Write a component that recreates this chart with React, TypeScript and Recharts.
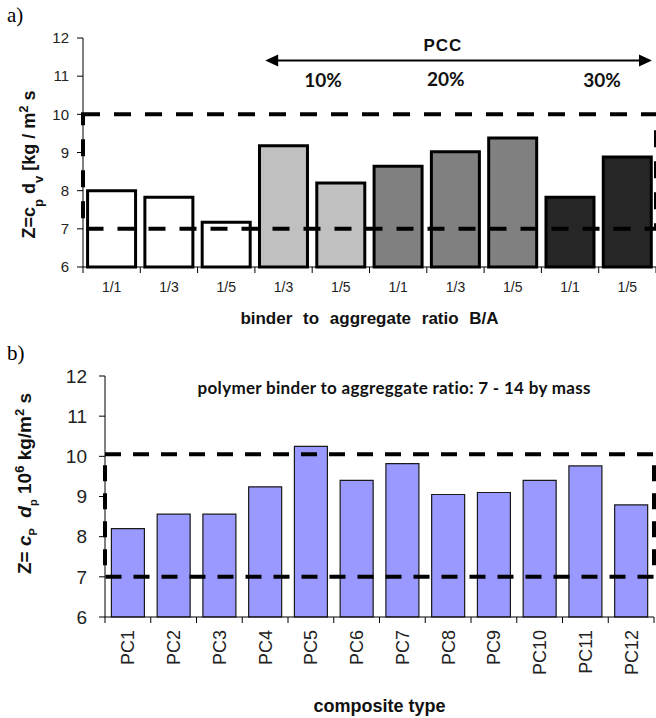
import React from "react";
import {
  Bar,
  BarChart,
  Cell,
  ReferenceArea,
  ReferenceDot,
  ReferenceLine,
  XAxis,
  YAxis
} from "recharts";

// panel a) - PCC composites
const topRatios = ["1/1", "1/3", "1/5", "1/3", "1/5", "1/1", "1/3", "1/5", "1/1", "1/5"];
const topPcc = ["0%", "0%", "0%", "10%", "10%", "20%", "20%", "20%", "30%", "30%"];
const topZ = [8.0, 7.83, 7.17, 9.18, 8.2, 8.64, 9.02, 9.38, 7.83, 8.88];
const topTicks = [6, 7, 8, 9, 10, 11, 12];

// panel b) - polymer composites
const composites = ["PC1", "PC2", "PC3", "PC4", "PC5", "PC6", "PC7", "PC8", "PC9", "PC10", "PC11", "PC12"];
const compositeZ = [8.2, 8.56, 8.56, 9.24, 10.25, 9.4, 9.82, 9.05, 9.1, 9.4, 9.76, 8.79];
const bottomTicks = [6, 7, 8, 9, 10, 11, 12];

// acceptable range band
const zLow = 7;
const zHighTop = 10;
const zHighBottom = 10.05;

const pccFill: Record<string, string> = {
  "0%": "#ffffff",
  "10%": "#c0c0c0",
  "20%": "#808080",
  "30%": "#262626"
};

const topData = topRatios.map((r, i) => ({ id: `a${i}`, pos: i, ratio: r, pcc: topPcc[i], z: topZ[i] }));
const bottomData = composites.map((c, i) => ({ id: c, pos: i, z: compositeZ[i] }));

const W = 656;
const TOP_H = 335;
const TOP_MARGIN = { top: 38, right: 0, bottom: 38, left: 0 };
const TOP_YW = 83;
const TOP_XH = 30;
const TOP_PLOT_BOTTOM = TOP_H - TOP_MARGIN.bottom - TOP_XH;
const TOP_HALF = (W - TOP_MARGIN.left - TOP_MARGIN.right - TOP_YW) / topRatios.length / 2;

const BOT_H = 378;
const BOT_MARGIN = { top: 36, right: 2, bottom: 31, left: 0 };
const BOT_YW = 105;
const BOT_XH = 70;
const BOT_PLOT_BOTTOM = BOT_H - BOT_MARGIN.bottom - BOT_XH;
const BOT_HALF = (W - BOT_MARGIN.left - BOT_MARGIN.right - BOT_YW) / composites.length / 2;

const SANS = "'Liberation Sans', Arial, sans-serif";
const CAL = "Lato, 'Open Sans', sans-serif";

function TopTick(props: any) {
  const { x, index } = props;
  return (
    <g>
      {index === 0 && (
        <line x1={x - TOP_HALF} x2={x - TOP_HALF} y1={TOP_PLOT_BOTTOM} y2={TOP_PLOT_BOTTOM + 6} stroke="#000" />
      )}
      <line x1={x + TOP_HALF} x2={x + TOP_HALF} y1={TOP_PLOT_BOTTOM} y2={TOP_PLOT_BOTTOM + 6} stroke="#000" />
      <text x={x} y={TOP_PLOT_BOTTOM + 20} dy="0.35em" textAnchor="middle" fontSize={14} fill="#222" fontFamily={SANS}>
        {topRatios[index]}
      </text>
    </g>
  );
}

function BottomTick(props: any) {
  const { x, index } = props;
  const ly = BOT_PLOT_BOTTOM + 13;
  return (
    <g>
      {index === 0 && (
        <line x1={x - BOT_HALF} x2={x - BOT_HALF} y1={BOT_PLOT_BOTTOM} y2={BOT_PLOT_BOTTOM + 6} stroke="#000" />
      )}
      <line x1={x + BOT_HALF} x2={x + BOT_HALF} y1={BOT_PLOT_BOTTOM} y2={BOT_PLOT_BOTTOM + 6} stroke="#000" />
      <text
        x={x}
        y={ly}
        dy="0.36em"
        textAnchor="end"
        transform={`rotate(-90, ${x}, ${ly})`}
        fontSize={18}
        fill="#222"
        fontFamily={SANS}
      >
        {composites[index]}
      </text>
    </g>
  );
}

function TopYLabel(props: any) {
  const vb = props.viewBox || { x: 0, y: 0, width: 0, height: 0 };
  const cx = vb.x + 35;
  const cy = vb.y + vb.height / 2 + 12;
  return (
    <text
      x={cx}
      y={cy}
      textAnchor="middle"
      transform={`rotate(-90, ${cx}, ${cy})`}
      fontSize={18}
      fontWeight="bold"
      fontFamily={SANS}
      fill="#111"
      style={{ whiteSpace: "pre" }}
    >
      Z=c<tspan baselineShift="sub" fontSize={13}>p</tspan> d<tspan baselineShift="sub" fontSize={13}>v</tspan> [kg / m
      <tspan baselineShift="super" fontSize={13}>2</tspan> s
    </text>
  );
}

function BottomYLabel(props: any) {
  const vb = props.viewBox || { x: 0, y: 0, width: 0, height: 0 };
  const cx = vb.x + 31;
  const cy = vb.y + vb.height / 2 - 13;
  return (
    <text
      x={cx}
      y={cy}
      textAnchor="middle"
      transform={`rotate(-90, ${cx}, ${cy})`}
      fontSize={19}
      fontWeight="bold"
      fontFamily={SANS}
      fill="#111"
      style={{ whiteSpace: "pre" }}
    >
      Z= <tspan fontStyle="italic">c</tspan>
      <tspan baselineShift="sub" fontSize={11}>P</tspan>
      {"  "}
      <tspan fontStyle="italic">d</tspan>
      <tspan baselineShift="sub" fontSize={11}>p</tspan> 10
      <tspan baselineShift="super" fontSize={13}>6</tspan> kg/m
      <tspan baselineShift="super" fontSize={13}>2</tspan> s
    </text>
  );
}

function ArrowShape(props: any) {
  const { x1, y1, x2, y2 } = props;
  const h = 13;
  const w = 6;
  return (
    <g>
      <line x1={x1 + h - 1} y1={y1} x2={x2 - h + 1} y2={y2} stroke="#000" strokeWidth={2} />
      <polygon points={`${x1},${y1} ${x1 + h},${y1 - w} ${x1 + h},${y1 + w}`} fill="#000" />
      <polygon points={`${x2},${y2} ${x2 - h},${y2 - w} ${x2 - h},${y2 + w}`} fill="#000" />
    </g>
  );
}

const pctLabel = (value: string) => ({
  value,
  position: "center" as const,
  fill: "#111",
  fontSize: 19,
  fontWeight: "bold",
  fontFamily: CAL
});

export default function App() {
  return (
    <div style={{ position: "absolute", left: 0, top: 0, width: W, height: 718, background: "#fff" }}>
      <div style={{ position: "absolute", left: 7, top: 5, fontSize: 21, lineHeight: 1, fontFamily: "'Liberation Serif', serif" }}>
        a)
      </div>
      <div style={{ position: "absolute", left: 7, top: 343, fontSize: 21, lineHeight: 1, fontFamily: "'Liberation Serif', serif" }}>
        b)
      </div>

      <div style={{ position: "absolute", left: 0, top: 0 }}>
        <BarChart width={W} height={TOP_H} data={topData} margin={TOP_MARGIN} barCategoryGap="8%">
          <XAxis
            dataKey="id"
            height={TOP_XH}
            stroke="#000"
            tickLine={false}
            interval={0}
            tick={<TopTick />}
            label={{
              value: "binder to aggregate ratio B/A",
              position: "bottom",
              offset: 15,
              fontSize: 17,
              fontWeight: "bold",
              fill: "#111",
              fontFamily: SANS,
              style: { wordSpacing: 6 }
            }}
          />
          {/* hidden index axis for annotations: 0..n-1 = bar centres */}
          <XAxis
            xAxisId="ann"
            dataKey="pos"
            type="number"
            domain={[0, topRatios.length - 1]}
            padding={{ left: TOP_HALF, right: TOP_HALF }}
            hide
            allowDataOverflow
          />
          <YAxis
            width={TOP_YW}
            domain={[6, 12]}
            ticks={topTicks}
            interval={0}
            stroke="#000"
            tickMargin={8}
            tick={{ fontSize: 15, fill: "#222", fontFamily: SANS }}
            label={TopYLabel}
          />
          <Bar dataKey="z" stroke="#000" strokeWidth={3} isAnimationActive={false}>
            {topData.map((d) => (
              <Cell key={d.id} fill={pccFill[d.pcc]} />
            ))}
          </Bar>
          <ReferenceArea
            y1={zLow}
            y2={zHighTop}
            fill="none"
            fillOpacity={0}
            stroke="#000"
            strokeWidth={4}
            strokeDasharray="17 14"
            ifOverflow="visible"
            zIndex={450}
          />
          <ReferenceLine
            xAxisId="ann"
            segment={[{ x: 2.68, y: 11.41 }, { x: 9.43, y: 11.41 }]}
            shape={ArrowShape}
            ifOverflow="visible"
          />
          <ReferenceDot
            xAxisId="ann"
            x={5.78}
            y={11.82}
            r={0}
            ifOverflow="visible"
            label={{ ...pctLabel("PCC"), fontFamily: SANS, fontSize: 17, letterSpacing: 1 }}
          />
          <ReferenceDot xAxisId="ann" x={3.69} y={10.88} r={0} ifOverflow="visible" label={pctLabel("10%")} />
          <ReferenceDot xAxisId="ann" x={5.83} y={10.92} r={0} ifOverflow="visible" label={pctLabel("20%")} />
          <ReferenceDot xAxisId="ann" x={8.56} y={10.88} r={0} ifOverflow="visible" label={pctLabel("30%")} />
        </BarChart>
      </div>

      <div style={{ position: "absolute", left: 0, top: 340 }}>
        <BarChart width={W} height={BOT_H} data={bottomData} margin={BOT_MARGIN} barCategoryGap="14%">
          <XAxis
            dataKey="id"
            height={BOT_XH}
            stroke="#000"
            tickLine={false}
            interval={0}
            tick={<BottomTick />}
            label={{
              value: "composite type",
              position: "bottom",
              offset: 12,
              fontSize: 18,
              fontWeight: "bold",
              fill: "#111",
              fontFamily: SANS
            }}
          />
          <XAxis
            xAxisId="ann"
            dataKey="pos"
            type="number"
            domain={[0, composites.length - 1]}
            padding={{ left: BOT_HALF, right: BOT_HALF }}
            hide
            allowDataOverflow
          />
          <YAxis
            width={BOT_YW}
            domain={[6, 12]}
            ticks={bottomTicks}
            interval={0}
            stroke="#000"
            tickMargin={12}
            tick={{ fontSize: 19, fill: "#222", fontFamily: SANS }}
            label={BottomYLabel}
          />
          <Bar dataKey="z" fill="#9999ff" stroke="#1a1a1a" strokeWidth={1.2} isAnimationActive={false} />
          <ReferenceArea
            y1={zLow}
            y2={zHighBottom}
            fill="none"
            fillOpacity={0}
            stroke="#000"
            strokeWidth={4}
            strokeDasharray="16 12"
            ifOverflow="visible"
            zIndex={450}
          />
          <ReferenceDot
            xAxisId="ann"
            x={5.82}
            y={11.7}
            r={0}
            ifOverflow="visible"
            label={{
              ...pctLabel("polymer binder to aggreggate ratio:  7 - 14 by mass"),
              fontSize: 17,
              letterSpacing: 0.3
            }}
          />
        </BarChart>
      </div>
    </div>
  );
}
